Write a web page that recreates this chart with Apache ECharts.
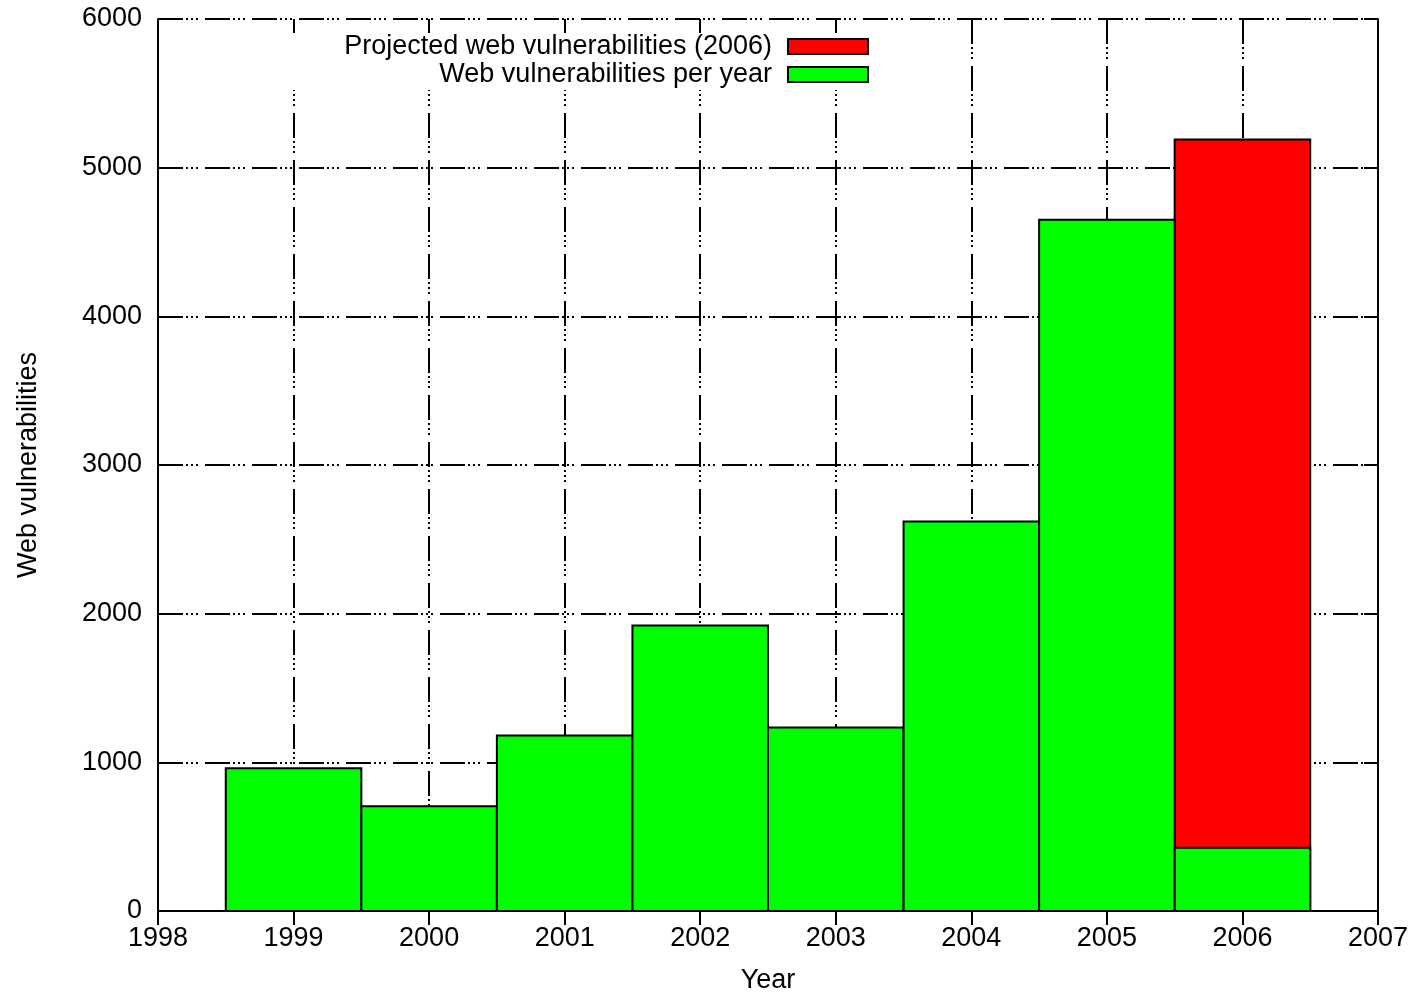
<!DOCTYPE html>
<html>
<head>
<meta charset="utf-8">
<title>Web vulnerabilities per year</title>
<script src="https://cdn.jsdelivr.net/npm/echarts@6/dist/echarts.min.js"></script>
<style>
  html, body { margin: 0; padding: 0; background: #fff; }
  #chart { width: 1418px; height: 995px; }
</style>
</head>
<body>
<div id="chart"></div>
<script>
// Yearly counts of published web vulnerabilities
const years = [1999, 2000, 2001, 2002, 2003, 2004, 2005, 2006];
const perYear = [960, 705, 1180, 1920, 1235, 2620, 4650, 425];
// Full-year projection for 2006
const projectedYears = [2006];
const projected = [5190];

const yTicks = [0, 1000, 2000, 3000, 4000, 5000, 6000];
const xMin = 1998, xMax = 2007;

const FONT = '"Liberation Sans", Arial, Helvetica, sans-serif';
const gridDash = [25, 3, 2, 3, 2, 3, 2, 7];

// Each bar spans one full year centred on its tick
function yearBar(params, api) {
  const x = api.value(0);
  const y = api.value(1);
  const topLeft = api.coord([x - 0.5, y]);
  const bottomRight = api.coord([x + 0.5, 0]);
  return {
    type: 'rect',
    shape: {
      x: topLeft[0],
      y: topLeft[1],
      width: bottomRight[0] - topLeft[0],
      height: bottomRight[1] - topLeft[1]
    },
    style: { fill: api.visual('color'), stroke: '#000', lineWidth: 2 }
  };
}

const chart = echarts.init(document.getElementById('chart'), null, { renderer: 'canvas' });

const axisText = { color: '#000', fontSize: 27, fontFamily: FONT };

const legendBase = {
  orient: 'horizontal',
  right: 549,
  align: 'right',
  itemWidth: 80,
  itemHeight: 15,
  icon: 'rect',
  selectedMode: false,
  backgroundColor: '#fff',
  itemStyle: { borderColor: '#000', borderWidth: 2 },
  textStyle: { color: '#000', fontSize: 27, fontFamily: FONT, padding: [0, 11, 0, 0] }
};

chart.setOption({
  animation: false,
  backgroundColor: '#fff',
  grid: {
    left: 158, right: 40, top: 19, bottom: 84,
    containLabel: false,
    outerBoundsMode: 'none'
  },
  legend: [
    Object.assign({}, legendBase, {
      data: ['Projected web vulnerabilities (2006)'],
      top: 33,
      padding: [0, 0, 0, 60]
    }),
    Object.assign({}, legendBase, {
      data: ['Web vulnerabilities per year'],
      top: 61,
      padding: [0, 0, 2, 160]
    })
  ],
  xAxis: [
    {
      type: 'value',
      min: xMin,
      max: xMax,
      interval: 1,
      name: 'Year',
      nameLocation: 'middle',
      nameGap: 56,
      nameTextStyle: axisText,
      axisLine: { show: true, lineStyle: { color: '#000', width: 2 } },
      axisTick: { show: true, inside: true, length: 14, lineStyle: { color: '#000', width: 2 } },
      axisLabel: Object.assign({ margin: 14, formatter: v => String(v) }, axisText),
      splitLine: { show: true, lineStyle: { color: '#000', width: 2, type: gridDash } }
    },
    {
      type: 'value',
      position: 'top',
      min: xMin,
      max: xMax,
      interval: 1,
      axisLine: { show: true, lineStyle: { color: '#000', width: 2 } },
      axisTick: { show: true, inside: true, length: 14, lineStyle: { color: '#000', width: 2 } },
      axisLabel: { show: false },
      splitLine: { show: false }
    }
  ],
  yAxis: [
    {
      type: 'value',
      min: yTicks[0],
      max: yTicks[yTicks.length - 1],
      interval: yTicks[1] - yTicks[0],
      name: 'Web vulnerabilities',
      nameLocation: 'middle',
      nameGap: 116,
      nameTextStyle: axisText,
      axisLine: { show: true, lineStyle: { color: '#000', width: 2 } },
      axisTick: { show: true, inside: true, length: 14, lineStyle: { color: '#000', width: 2 } },
      axisLabel: Object.assign({ margin: 16, formatter: v => String(v) }, axisText),
      splitLine: { show: true, lineStyle: { color: '#000', width: 2, type: gridDash } }
    },
    {
      type: 'value',
      position: 'right',
      min: yTicks[0],
      max: yTicks[yTicks.length - 1],
      interval: yTicks[1] - yTicks[0],
      axisLine: { show: true, lineStyle: { color: '#000', width: 2 } },
      axisTick: { show: true, inside: true, length: 14, lineStyle: { color: '#000', width: 2 } },
      axisLabel: { show: false },
      splitLine: { show: false }
    }
  ],
  series: [
    {
      name: 'Projected web vulnerabilities (2006)',
      type: 'custom',
      renderItem: yearBar,
      itemStyle: { color: '#ff0000', borderColor: '#000', borderWidth: 2 },
      encode: { x: 0, y: 1 },
      data: projectedYears.map((y, i) => [y, projected[i]]),
      z: 3
    },
    {
      name: 'Web vulnerabilities per year',
      type: 'custom',
      renderItem: yearBar,
      itemStyle: { color: '#00ff00', borderColor: '#000', borderWidth: 2 },
      encode: { x: 0, y: 1 },
      data: years.map((y, i) => [y, perYear[i]]),
      z: 4
    }
  ]
});
</script>
</body>
</html>
